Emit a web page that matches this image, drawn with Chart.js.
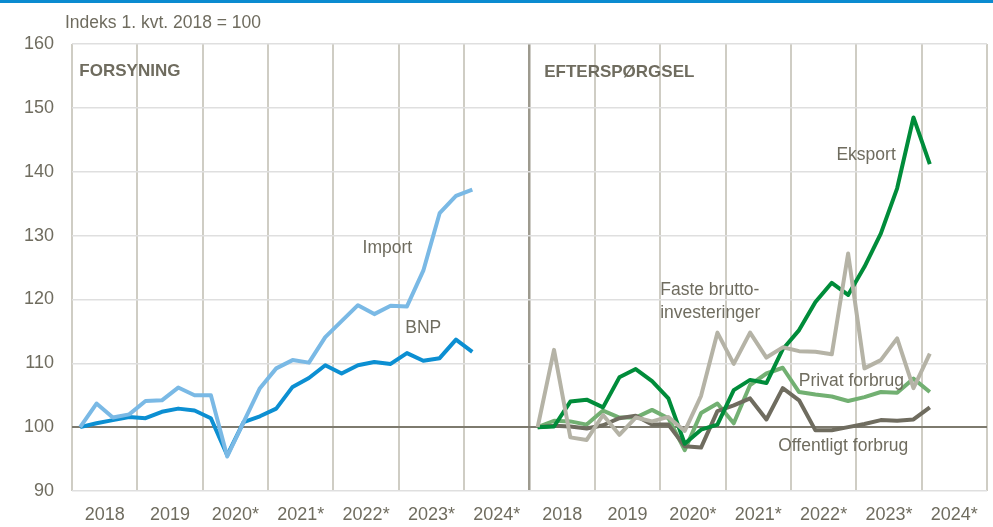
<!DOCTYPE html>
<html>
<head>
  <meta charset="utf-8" />
  <title>Forsyning og efterspørgsel</title>
  <script src="https://cdn.jsdelivr.net/npm/chart.js"></script>
  <style>
    body { margin: 0; background: #fff; }
    .wrap { position: relative; width: 993px; height: 527px; }
    .topbar { position: absolute; left: 0; top: 0; width: 993px; height: 3px; background: #0a8bd0; }
  </style>
</head>
<body>
  <div class="wrap">
    <canvas id="chart"></canvas>
    <div class="topbar"></div>
  </div>

  <script>
    // x-axis tick labels, one per year, repeated in both panels
    const years = ['2018', '2019', '2020*', '2021*', '2022*', '2023*', '2024*'];

    // Forsyning (left panel), 1. kvt. 2018 - 1. kvt. 2024
    const importVals = [100, 103.7, 101.5, 102, 104.1, 104.2, 106.2, 105, 105, 95.4, 100.8, 106.1, 109.2,
      110.5, 110.1, 114.1, 116.6, 119.1, 117.7, 119, 118.9, 124.5, 133.5, 136.2, 137.2];
    const bnpVals = [100, 100.6, 101.1, 101.6, 101.4, 102.4, 102.9, 102.6, 101.4, 95.6, 100.8, 101.7, 102.9,
      106.3, 107.7, 109.7, 108.4, 109.7, 110.2, 109.9, 111.6, 110.4, 110.8, 113.7, 111.8];

    // Efterspørgsel (right panel)
    const fasteVals = [100, 112.1, 98.4, 98, 101.9, 98.8, 101.5, 100.9, 101.6, 99.4, 104.9, 114.8, 109.9,
      114.8, 110.9, 112.5, 111.9, 111.8, 111.4, 127.2, 109.2, 110.5, 113.9, 106.1, 111.5];
    const eksportVals = [100, 100.1, 104, 104.3, 103.1, 107.8, 109.1, 107.2, 104.5, 97.4, 99.6, 100.4, 105.8,
      107.4, 106.9, 112.2, 115.2, 119.6, 122.6, 120.7, 125.1, 130.3, 137.4, 148.5, 141.2];
    const privatVals = [100, 101, 100.9, 100.4, 102.6, 101.5, 101.5, 102.7, 101.4, 96.4, 102.2, 103.7, 100.6,
      106.6, 108.4, 109.3, 105.5, 105.1, 104.8, 104.1, 104.7, 105.5, 105.4, 107.6, 105.5];
    const offentligtVals = [100, 100.2, 100.1, 99.8, 100.3, 101.4, 101.8, 100.4, 100.4, 97, 96.8, 102.5, 103.4,
      104.5, 101.2, 106.1, 104.2, 99.5, 99.5, 100, 100.5, 101.1, 101, 101.2, 103.1];

    const QUARTERS = 28; // 7 years per panel
    const textColor = '#6f6c5f';

    function toPoints(vals, panel) {
      return vals.map((v, i) => ({ x: panel * QUARTERS + i + 0.5, y: v }));
    }

    function line(label, vals, panel, color) {
      return {
        label: label,
        data: toPoints(vals, panel),
        borderColor: color,
        borderWidth: 4,
        pointRadius: 0,
        fill: false,
        tension: 0,
        borderJoinStyle: 'round'
      };
    }

    // text labels placed in data units
    const notes = [
      { text: 'FORSYNING', x: 0.45, y: 155.8, align: 'left', bold: true },
      { text: 'EFTERSPØRGSEL', x: 28.9, y: 155.6, align: 'left', bold: true },
      { text: 'Import', x: 19.3, y: 128, align: 'center' },
      { text: 'BNP', x: 21.5, y: 115.5, align: 'center' },
      { text: 'Eksport', x: 48.6, y: 142.6, align: 'center' },
      { text: 'Faste brutto-', x: 36.0, y: 121.4, align: 'left' },
      { text: 'investeringer', x: 36.0, y: 117.8, align: 'left' },
      { text: 'Privat forbrug', x: 47.7, y: 107.2, align: 'center' },
      { text: 'Offentligt forbrug', x: 47.2, y: 97, align: 'center' }
    ];

    const notesPlugin = {
      id: 'notes',
      afterDatasetsDraw(chart) {
        const ctx = chart.ctx;
        const xs = chart.scales.x, ys = chart.scales.y;
        ctx.save();
        ctx.fillStyle = textColor;
        ctx.textBaseline = 'middle';
        notes.forEach(n => {
          ctx.font = (n.bold ? 'bold 17px' : '17.5px') + ' "Liberation Sans", Arial, sans-serif';
          ctx.textAlign = n.align;
          ctx.fillText(n.text, xs.getPixelForValue(n.x), ys.getPixelForValue(n.y));
        });
        ctx.font = '17.5px "Liberation Sans", Arial, sans-serif';
        ctx.textAlign = 'left';
        ctx.fillText('Indeks 1. kvt. 2018 = 100', 65, 23);
        ctx.restore();
      }
    };

    Chart.defaults.font.family = '"Liberation Sans", Arial, sans-serif';
    Chart.defaults.color = textColor;

    new Chart(document.getElementById('chart'), {
      type: 'line',
      data: {
        datasets: [
          line('Import', importVals, 0, '#7ab9e5'),
          line('BNP', bnpVals, 0, '#0c8fd2'),
          line('Faste bruttoinvesteringer', fasteVals, 1, '#b5b3a6'),
          line('Eksport', eksportVals, 1, '#008c3a'),
          line('Offentligt forbrug', offentligtVals, 1, '#6f6c5f'),
          line('Privat forbrug', privatVals, 1, '#72b072')
        ]
      },
      options: {
        responsive: true,
        maintainAspectRatio: false,
        animation: false,
        layout: { padding: { top: 44, right: 6, left: 0, bottom: 0 } },
        plugins: {
          legend: { display: false },
          tooltip: { enabled: false }
        },
        scales: {
          x: {
            type: 'linear',
            min: 0,
            max: 2 * QUARTERS,
            afterBuildTicks: (scale) => {
              const t = [];
              for (let v = 0; v <= 2 * QUARTERS; v += 2) t.push({ value: v });
              scale.ticks = t;
            },
            afterFit: (scale) => {
              scale.height = 36;
              scale.paddingLeft = 0;
              scale.paddingRight = 0;
            },
            border: { display: false },
            grid: {
              drawTicks: false,
              color: (c) => {
                const v = c.tick ? c.tick.value : -1;
                if (v % 4 !== 0) return 'rgba(0,0,0,0)';
                return v === QUARTERS ? '#9d9a8e' : '#cfcdc4';
              },
              lineWidth: (c) => (c.tick && c.tick.value === QUARTERS ? 2.5 : 2)
            },
            ticks: {
              autoSkip: false,
              maxRotation: 0,
              padding: 13,
              font: { size: 18 },
              color: textColor,
              callback: (value) => (value % 4 === 2 ? years[Math.floor((value % QUARTERS) / 4)] : '')
            }
          },
          y: {
            min: 90,
            max: 160,
            afterFit: (scale) => { scale.width = 72; },
            border: { display: false },
            grid: {
              drawTicks: false,
              color: (c) => (c.tick && c.tick.value === 100 ? '#7d7a6e' : '#dfdfdf'),
              lineWidth: (c) => (c.tick && c.tick.value === 100 ? 2 : 1.5)
            },
            ticks: {
              stepSize: 10,
              padding: 18,
              font: { size: 18 },
              color: textColor
            }
          }
        }
      },
      plugins: [notesPlugin]
    });
  </script>
</body>
</html>
